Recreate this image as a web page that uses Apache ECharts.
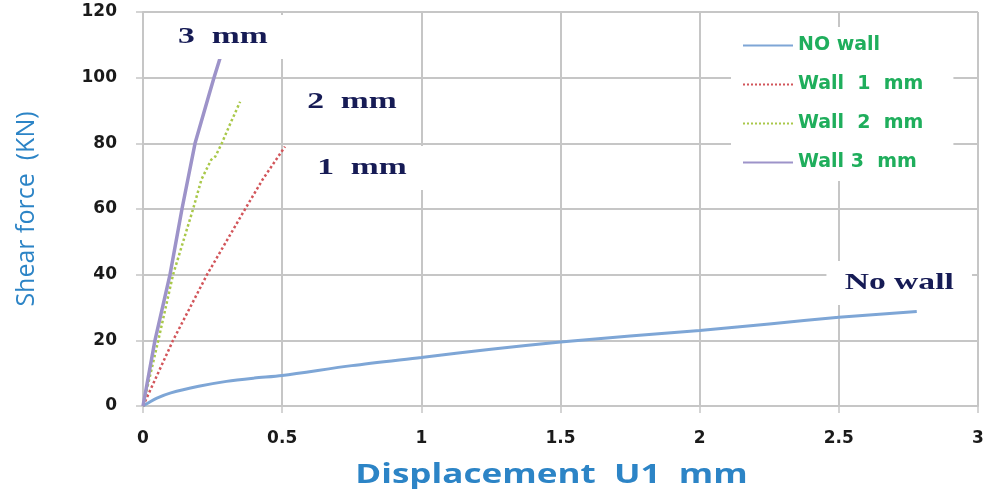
<!DOCTYPE html>
<html>
<head>
<meta charset="utf-8">
<script src="https://cdn.jsdelivr.net/npm/echarts@6/dist/echarts.min.js"></script>
<style>
  html, body { margin: 0; padding: 0; background: #fff; }
  #chart { width: 987px; height: 493px; }
</style>
</head>
<body>
<div id="chart"></div>
<script>
// Shear force vs. displacement for a frame without infill and with 1/2/3 mm walls
const seriesNames = ['NO wall', 'Wall  1  mm', 'Wall  2  mm', 'Wall 3  mm'];

// [displacement U1 (mm), shear force (kN)]
const noWall = [
  [0, 0], [0.02, 1], [0.05, 2.4], [0.1, 4], [0.2, 6], [0.3, 7.5], [0.4, 8.5],
  [0.5, 9.3], [0.75, 12.3], [1.0, 14.8], [1.25, 17.3], [1.5, 19.5], [1.75, 21.3],
  [2.0, 23], [2.25, 25], [2.5, 27], [2.78, 28.8]
];
const wall1 = [
  [0, 0], [0.108, 20], [0.23, 40], [0.367, 60], [0.43, 69], [0.51, 79]
];
const wall2 = [
  [0, 0], [0.055, 20], [0.108, 40], [0.18, 60], [0.21, 69], [0.245, 75],
  [0.26, 76], [0.283, 80], [0.31, 85.3], [0.349, 92.7]
];
const wall3 = [
  [0, 0], [0.043, 20], [0.097, 40], [0.14, 60], [0.187, 80], [0.238, 95], [0.255, 100], [0.277, 106]
];

// in-plot captions: [x, y, text]
const captions = [
  [0.287, 112.4, '3  mm'],
  [0.751, 92.6, '2  mm'],
  [0.787, 72.5, '1  mm'],
  [2.717, 37.5, 'No wall']
];

const xTicks = { min: 0, max: 3, interval: 0.5 };
const yTicks = { min: 0, max: 120, interval: 20 };
const xTitle = 'Displacement  U1  mm';
const yTitle = 'Shear force  (KN)';

const gridColor = '#c6c6c6';
const titleBlue = '#2c84c6';

function lineSeries(name, data, color, type, width, smooth) {
  return {
    name: name,
    type: 'line',
    data: data,
    symbol: 'none',
    smooth: smooth || false,
    lineStyle: { color: color, width: width, type: type },
    itemStyle: { color: color },
    z: 3
  };
}

const chart = echarts.init(document.getElementById('chart'));
chart.setOption({
  animation: false,
  backgroundColor: '#fff',
  grid: { left: 143, right: 9, top: 12, bottom: 87 },
  xAxis: {
    type: 'value',
    min: xTicks.min, max: xTicks.max, interval: xTicks.interval,
    axisLine: { show: true, lineStyle: { color: gridColor, width: 2 } },
    axisTick: { show: true, length: 7, lineStyle: { color: gridColor, width: 1.5 } },
    axisLabel: { color: '#1a1a1a', fontSize: 17, fontWeight: 'bold', fontFamily: 'DejaVu Sans', margin: 24,
                 formatter: v => String(v) },
    splitLine: { show: true, lineStyle: { color: gridColor, width: 2 } }
  },
  yAxis: {
    type: 'value',
    min: yTicks.min, max: yTicks.max, interval: yTicks.interval,
    name: yTitle,
    nameLocation: 'middle',
    nameGap: 104,
    nameTextStyle: { color: titleBlue, fontSize: 25, fontFamily: 'Open Sans' },
    axisLine: { show: true, lineStyle: { color: gridColor, width: 2 } },
    axisTick: { show: true, length: 7, lineStyle: { color: gridColor, width: 1.5 } },
    axisLabel: { color: '#1a1a1a', fontSize: 17, fontWeight: 'bold', fontFamily: 'DejaVu Sans', margin: 26 },
    splitLine: { show: true, lineStyle: { color: gridColor, width: 2 } }
  },
  legend: {
    orient: 'vertical',
    left: 731, top: 27,
    padding: [9, 30, 9, 11],
    backgroundColor: '#fff',
    itemWidth: 50, itemHeight: 14, itemGap: 20,
    itemStyle: { opacity: 0 },
    textStyle: { color: '#1fae5c', fontSize: 19, fontWeight: 'bold', fontFamily: 'DejaVu Sans' },
    data: seriesNames
  },
  series: [
    lineSeries(seriesNames[0], noWall, '#7ea6d6', 'solid', 3, 0.3),
    lineSeries(seriesNames[1], wall1, '#d2555a', 'dotted', 2.5),
    lineSeries(seriesNames[2], wall2, '#a9c84a', 'dotted', 2.5),
    lineSeries(seriesNames[3], wall3, '#9d93c9', 'solid', 3.5)
  ]
});

// Captions and the x-axis title are drawn as text shapes so they can be widened.
function place() {
  const elements = captions.map(c => {
    const p = chart.convertToPixel({ gridIndex: 0 }, [c[0], c[1]]);
    return {
      type: 'text',
      x: p[0], y: p[1],
      scaleX: 1.4,
      z: 20,
      style: {
        text: c[2],
        fontFamily: 'Liberation Serif',
        fontSize: 24,
        fontWeight: 'bold',
        fill: '#161b55',
        align: 'center',
        verticalAlign: 'middle',
        backgroundColor: '#fff',
        padding: [10, 13]
      }
    };
  });
  const mid = chart.convertToPixel({ gridIndex: 0 }, [(xTicks.min + xTicks.max) / 2, yTicks.min]);
  elements.push({
    type: 'text',
    x: mid[0] - 9, y: mid[1] + 70,
    scaleX: 1.35,
    z: 20,
    style: {
      text: xTitle,
      fontFamily: 'Open Sans',
      fontSize: 26,
      fontWeight: 'bold',
      fill: titleBlue,
      align: 'center',
      verticalAlign: 'middle'
    }
  });
  chart.setOption({ graphic: { elements: elements } });
}
place();
</script>
</body>
</html>
